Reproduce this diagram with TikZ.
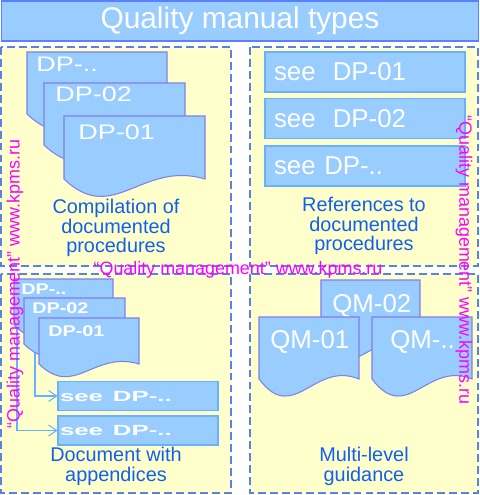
\documentclass[tikz,border=0pt]{standalone}
\usepackage{fontspec}
\usepackage{tikz}
\usepackage{xcolor}
\setmainfont{Liberation Sans}
\newfontfamily\widesf[FakeStretch=1.28]{Liberation Sans}
\newfontfamily\widersf[FakeStretch=1.75]{Liberation Sans}
\usetikzlibrary{arrows.meta}

\definecolor{pagefill}{HTML}{99CCFF}
\definecolor{pageline}{HTML}{7F7FEE}
\definecolor{titleline}{HTML}{5B7FFF}
\definecolor{boxline}{HTML}{66B2FF}
\definecolor{panelfill}{HTML}{FFFFCC}
\definecolor{panelline}{HTML}{5A82E6}
\definecolor{captext}{HTML}{1060F0}
\definecolor{wmark}{HTML}{FF00FF}

% page with a wavy bottom: x, y (top left), width, height
\newcommand{\docpage}[4]{%
  \draw[doc page] (#1,#2) -- ({#1+#3},#2) -- ({#1+#3},{#2+#4})
    .. controls ({#1+0.55*#3},{#2+0.7*#4}) and ({#1+0.35*#3},{#2+1.75*#4}) .. (#1,{#2+#4}) -- cycle;}

\begin{document}
\begin{tikzpicture}%
  [x=0.02cm,y=-0.02cm,
   doc page/.style={draw=pageline,fill=pagefill,line width=0.6pt},
   panel/.style={draw=panelline,fill=panelfill,dash pattern=on 4.5pt off 2.3pt,line width=0.6pt}]
  \tikzstyle{title bar}=[rectangle,draw=titleline,fill=pagefill,line width=0.8pt,
    minimum width=9.54cm,minimum height=0.8cm,text=white,font=\fontsize{17}{20}\selectfont]
  \tikzstyle{ref box}=[rectangle,draw=boxline,fill=pagefill,line width=0.6pt,
    minimum width=4cm,minimum height=0.8cm,inner xsep=0.18cm,text width=3.64cm,align=left,
    text=white,font=\fontsize{14.7}{16}\selectfont]
  \tikzstyle{app box}=[rectangle,draw=boxline,fill=pagefill,line width=0.6pt,
    minimum width=3.2cm,minimum height=0.58cm,inner xsep=0.04cm,text width=3.12cm,align=left,
    text=white,font=\widersf\bfseries\fontsize{8.4}{9}\selectfont]
  \tikzstyle{doc label}=[anchor=west,inner sep=0,text=white]
  \tikzstyle{caption}=[align=center,text=captext,font=\fontsize{11.3}{11.3}\selectfont]
  \tikzstyle{water}=[text=wmark,font=\fontsize{10.2}{12}\selectfont,inner sep=0]
  \tikzstyle{app link}=[draw=boxline,line width=0.6pt,-{Straight Barb[length=0.16cm,width=0.22cm]}]
  \useasboundingbox (0,0) rectangle (480,495);
  \node[title bar] (title) at (240,21) {Quality manual types};
  % four panels
  \draw[panel] (1,47) rectangle (231,266);
  \draw[panel] (250,47) rectangle (478,266);
  \draw[panel] (1,274) rectangle (231,493);
  \draw[panel] (250,274) rectangle (478,493);
  % compilation
  \docpage{27}{52}{140}{62}
  \node[doc label,font=\widesf\fontsize{12}{14}\selectfont] (tl3) at (36,64.5) {DP-..};
  \docpage{44}{83}{141}{62}
  \node[doc label,font=\widesf\fontsize{12}{14}\selectfont] (tl2) at (55,94.5) {DP-02};
  \docpage{64}{116}{141}{63}
  \node[doc label,font=\widesf\fontsize{12}{14}\selectfont] (tl1) at (78,132.5) {DP-01};
  \node[caption] (capA) at (116,228) {Compilation of\\documented\\procedures};
  % references
  \node[ref box] (ref1) at (365,72) {see\ \ DP-01};
  \node[ref box] (ref2) at (365,118.5) {see\ \ DP-02};
  \node[ref box] (ref3) at (365,166) {see DP-..};
  \node[caption] (capB) at (364,226) {References to\\documented\\procedures};
  % appendices
  \coordinate (from1) at (35,330);
  \coordinate (from2) at (17,300);
  \node[app box] (app1) at (138,396) {see\ \ DP-..};
  \node[app box] (app2) at (138,430.5) {see\ \ DP-..};
  \draw[app link] (from1) |- (app1.west);
  \draw[app link] (from2) |- (app2.west);
  \docpage{14}{279}{99}{46}
  \node[doc label,font=\widesf\bfseries\fontsize{8.8}{10}\selectfont] (bl3) at (21,289) {DP-..};
  \docpage{24}{298}{101}{46}
  \node[doc label,font=\widesf\bfseries\fontsize{8.8}{10}\selectfont] (bl2) at (32,308) {DP-02};
  \docpage{39}{318}{100}{46}
  \node[doc label,font=\widesf\bfseries\fontsize{8.8}{10}\selectfont] (bl1) at (48,331) {DP-01};
  \node[caption] (capC) at (116,466) {Document with\\appendices};
  % multi-level
  \docpage{321}{280}{99}{62}
  \node[doc label,font=\fontsize{14.7}{16}\selectfont] (qm2) at (332,306) {QM-02};
  \docpage{259}{317}{100}{62}
  \node[doc label,font=\fontsize{14.7}{16}\selectfont] (qm1) at (270,342) {QM-01};
  \docpage{372}{317}{100}{62}
  \node[doc label,font=\fontsize{14.7}{16}\selectfont] (qm3) at (390,342) {QM-..};
  \node[caption] (capD) at (364,466) {Multi-level\\guidance};
  % watermarks
  \node[water] (wmh) at (238,270) {“Quality management” www.kpms.ru};
  \node[water,rotate=90] (wml) at (15,284) {“Quality management” www.kpms.ru};
  \node[water,rotate=-90] (wmr) at (464,260) {“Quality management” www.kpms.ru};
\end{tikzpicture}
\end{document}
